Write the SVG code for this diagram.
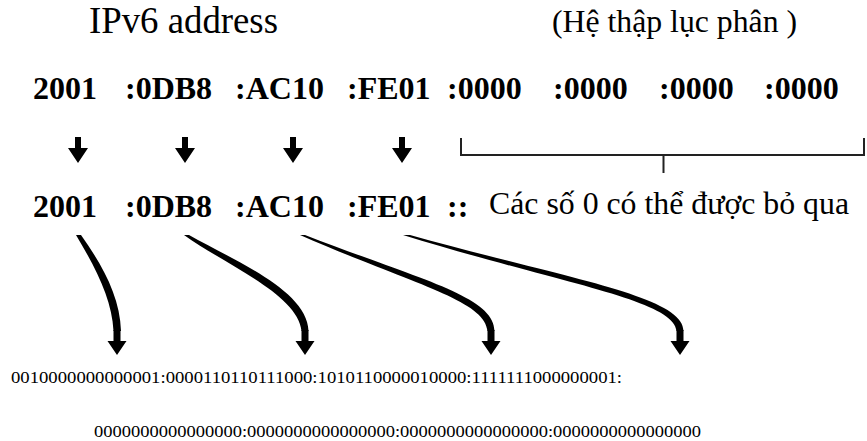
<svg xmlns="http://www.w3.org/2000/svg" width="867" height="441" viewBox="0 0 867 441">
<defs>
<style>
.t{font-family:"Liberation Serif","Times New Roman",serif;fill:#000}
.b{font-weight:bold;font-size:32px}
.r{font-size:31px}
.bin{font-size:17px}
.br{fill:none;stroke:#222;stroke-width:2}
.ar{fill:#000}
</style>
<path id="dn" d="M-3,0 H3 V11 H10 L0,26 L-10,11 H-3 Z"/>
<path id="hd" d="M-3.5,0 H3.5 V11 H9.5 L0,25 L-9.5,11 H-3.5 Z"/>
</defs>
<rect width="867" height="441" fill="#fff"/>

<g id="title">
<text class="t" x="89" y="33" font-size="38" textLength="189" lengthAdjust="spacingAndGlyphs">IPv6 address</text>
</g>
<g id="hex-label">
<text class="t r" x="552" y="32" textLength="245" lengthAdjust="spacingAndGlyphs">(Hệ thập lục phân )</text>
</g>

<g id="full-address">
<text class="t b" x="33" y="99">2001</text>
<text class="t b" x="125" y="99">:0DB8</text>
<text class="t b" x="235" y="99">:AC10</text>
<text class="t b" x="347" y="99">:FE01</text>
<text class="t b" x="447" y="99">:0000</text>
<text class="t b" x="553" y="99">:0000</text>
<text class="t b" x="659" y="99">:0000</text>
<text class="t b" x="764" y="99">:0000</text>
</g>

<g id="short-address">
<text class="t b" x="33" y="217">2001</text>
<text class="t b" x="125" y="217">:0DB8</text>
<text class="t b" x="235" y="217">:AC10</text>
<text class="t b" x="347" y="217">:FE01</text>
<text class="t b" x="447" y="217">::</text>
</g>
<g id="omit-note">
<text class="t r" x="489" y="214" textLength="360" lengthAdjust="spacingAndGlyphs">Các số 0 có thể được bỏ qua</text>
</g>

<g id="binary">
<text class="t bin" x="11" y="383" textLength="611" lengthAdjust="spacingAndGlyphs">0010000000000001:0000110110111000:1010110000010000:1111111000000001:</text>
<text class="t bin" x="94" y="437" textLength="607" lengthAdjust="spacingAndGlyphs">0000000000000000:0000000000000000:0000000000000000:0000000000000000</text>
</g>

<g id="connectors">
<use href="#dn" class="ar" x="78" y="137"/>
<use href="#dn" class="ar" x="185" y="137"/>
<use href="#dn" class="ar" x="293" y="137"/>
<use href="#dn" class="ar" x="402" y="137"/>
<path class="br" d="M461,138 V155 H864 V138 M663.5,155 V173"/>
<path class="ar" d="M76,235 C97,270 112,300 113.5,331 L121,331 C120,297 103,266 81,235 Z"/>
<path class="ar" d="M184,235 C224,264 298,294 301.5,331 L308.5,331 C307.5,290 231,259 189,235 Z"/>
<path class="ar" d="M300,235 C412,284 485,300 487.5,331 L494.5,331 C494.5,296 418,279 305,235 Z"/>
<path class="ar" d="M403,235 C562,284 674,300 676.5,331 L683.5,331 C683.5,296 568,279 410,235 Z"/>
<use href="#hd" class="ar" x="117" y="330"/>
<use href="#hd" class="ar" x="305" y="330"/>
<use href="#hd" class="ar" x="491" y="330"/>
<use href="#hd" class="ar" x="680" y="330"/>
</g>
</svg>
